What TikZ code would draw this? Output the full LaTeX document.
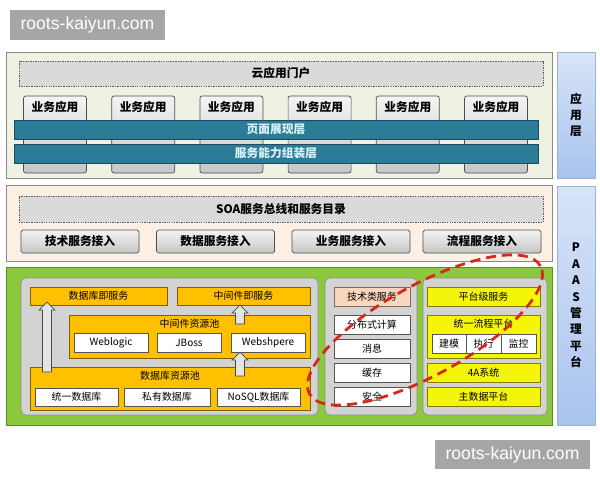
\documentclass[tikz,border=0pt]{standalone}
\usepackage{fontspec}
\setmainfont{Noto Sans CJK SC}
\newfontfamily\wmfont{Liberation Sans}
\usetikzlibrary{calc}

\definecolor{appbg}{HTML}{EFF2E2}
\definecolor{soabg}{HTML}{FCEFE3}
\definecolor{layerline}{HTML}{8A8A8A}
\definecolor{dashfill}{HTML}{DADADA}
\definecolor{dashline}{HTML}{5A5A5A}
\definecolor{btntop}{HTML}{F4F4F4}
\definecolor{btnbot}{HTML}{C6C6C6}
\definecolor{btnline}{HTML}{4D4D4D}
\definecolor{barteal}{HTML}{2B7D97}
\definecolor{tealline}{HTML}{1D4B5A}
\definecolor{tealtext}{HTML}{DDF3FA}
\definecolor{sidetop}{HTML}{D8E4F8}
\definecolor{sidebot}{HTML}{A9C3EE}
\definecolor{sideline}{HTML}{9DB3D6}
\definecolor{paasgreen}{HTML}{8CC83C}
\definecolor{greenline}{HTML}{5B8C2A}
\definecolor{poolgray}{HTML}{D3D3D3}
\definecolor{poolline}{HTML}{8C8C8C}
\definecolor{dborange}{HTML}{FFC000}
\definecolor{orangeline}{HTML}{7F6000}
\definecolor{yel}{HTML}{F5F50A}
\definecolor{yelline}{HTML}{807F00}
\definecolor{peach}{HTML}{F9D7BF}
\definecolor{peachline}{HTML}{7F6A5A}
\definecolor{boxline}{HTML}{555555}
\definecolor{arrfill}{HTML}{E4E4E4}
\definecolor{arrline}{HTML}{4A4A4A}
\definecolor{loopred}{HTML}{D42A1F}
\definecolor{wmgray}{HTML}{A6A6A6}

\newcommand\liftarrow[2]{\draw[blockarrow] ($(#1)+(-4.5, 0)$) -- ($(#2)+(-4.5, 8)$) -- ($(#2)+(-8, 8)$) -- (#2) -- ($(#2)+(8, 8)$) -- ($(#2)+(4.5, 8)$) -- ($(#1)+(4.5, 0)$) -- cycle;}

\begin{document}
\begin{tikzpicture}[x=0.3mm, y=-0.3mm,
	sz/.style 2 args={minimum width=#1*0.3mm, minimum height=#2*0.3mm, inner sep=0pt, outer sep=0pt},
	bigtext/.style={font=\bfseries\fontsize{10}{12}\selectfont},
	smalltext/.style={font=\fontsize{8.5}{10}\selectfont},
	layerbox/.style={draw=layerline, line width=0.8pt},
	dashbox/.style={bigtext, fill=dashfill, draw=dashline, dash pattern=on 1.2pt off 0.9pt, line width=0.6pt},
	appbox/.style={draw=btnline, rounded corners=2pt, top color=btntop, bottom color=btnbot, line width=0.6pt},
	bar/.style={bigtext, fill=barteal, draw=tealline, line width=0.8pt, text=tealtext},
	btn/.style={bigtext, draw=btnline, rounded corners=1.5pt, top color=btntop, bottom color=btnbot, line width=0.6pt},
	sidebox/.style={draw=sideline, top color=sidetop, bottom color=sidebot, line width=0.6pt, align=center},
	pool/.style={fill=poolgray, draw=poolline, rounded corners=4pt, line width=0.6pt},
	obox/.style={smalltext, fill=dborange, draw=orangeline, line width=0.6pt},
	wbox/.style={smalltext, fill=white, draw=boxline, line width=0.6pt},
	ybox/.style={smalltext, fill=yel, draw=yelline, line width=0.6pt},
	pbox/.style={smalltext, fill=peach, draw=peachline, line width=0.6pt},
	toplabel/.style={anchor=north, inner sep=1pt, yshift=-0.9mm},
	blockarrow/.style={fill=arrfill, draw=arrline, line width=0.6pt},
	wm/.style={fill=wmgray, text=white, font=\wmfont\fontsize{15}{17}\selectfont}
]
	\useasboundingbox (0, 0) rectangle (600, 480);

	% application layer
	\node[layerbox, fill=appbg, sz={546}{126}] (applayer) at (279, 115) {};
	\node[dashbox, sz={524}{25}] (portal) at (281, 73.5) {云应用门户};
	\foreach \i in {0,...,5}
		\node[appbox, sz={63}{77}, label={[bigtext, toplabel, yshift=-0.3mm]north:业务应用}] (app\i) at ({55 + 88.2*\i}, 134.5) {};
	\node[bar, sz={524}{19}] (showbar) at (276, 129.5) {页面展现层};
	\node[bar, sz={524}{19}] (assembar) at (276, 153.5) {服务能力组装层};
	\node[sidebox, sz={38}{126}, font=\bfseries\fontsize{10}{13.3}\selectfont] (appside) at (576, 115) {应\\用\\层};

	% SOA layer
	\node[layerbox, fill=soabg, sz={546}{76}] (soalayer) at (279, 223) {};
	\node[dashbox, sz={524}{26}] (soabus) at (281, 209) {SOA服务总线和服务目录};
	\node[btn, sz={118}{23}] (techin) at (80, 241.5) {技术服务接入};
	\node[btn, sz={118}{23}] (datain) at (215.5, 241.5) {数据服务接入};
	\node[btn, sz={118}{23}] (bizin) at (351, 241.5) {业务服务接入};
	\node[btn, sz={118}{23}] (flowin) at (482, 241.5) {流程服务接入};
	\node[sidebox, sz={38}{239}, font=\bfseries\fontsize{10}{14}\selectfont] (paasside) at (576, 305.5) {P\\A\\A\\S\\管\\理\\平\\台};

	% PAAS layer
	\node[layerbox, fill=paasgreen, draw=greenline, sz={546}{158}] (paaslayer) at (279, 346) {};
	\node[pool, sz={297}{137}] (leftpool) at (169.5, 346.5) {};
	\node[pool, sz={92}{137}] (midpool) at (371, 346.5) {};
	\node[pool, sz={124}{137}] (rightpool) at (485, 346.5) {};

	\node[obox, sz={137}{18}] (dbsvc) at (98.5, 296) {数据库即服务};
	\node[obox, sz={133}{18}] (mwsvc) at (243.5, 296) {中间件即服务};
	\node[obox, sz={241}{43}, label={[smalltext, toplabel]north:中间件资源池}] (mwpool) at (189.5, 336.5) {};
	\node[wbox, sz={74}{19}] (weblogic) at (111, 342.5) {Weblogic};
	\node[wbox, sz={64}{19}] (jboss) at (189, 342.5) {JBoss};
	\node[wbox, sz={74}{19}] (websphere) at (268, 342.5) {Webshpere};
	\node[obox, sz={280}{43}, label={[smalltext, toplabel]north:数据库资源池}] (dbpool) at (170, 388.5) {};
	\node[wbox, sz={83}{18}] (unidb) at (76.5, 397) {统一数据库};
	\node[wbox, sz={86}{18}] (privdb) at (167, 397) {私有数据库};
	\node[wbox, sz={83}{18}] (nosqldb) at (258.5, 397) {NoSQL数据库};

	\coordinate (colA) at (47, 0);
	\coordinate (colB) at (240, 0);
	\coordinate (a1s) at ($(dbpool.north -| colA)+(0, 5)$);
	\coordinate (a1e) at ($(dbsvc.south -| colA)+(0, -3)$);
	\coordinate (a2s) at ($(mwpool.north -| colB)+(0, 9)$);
	\coordinate (a2e) at (mwsvc.south -| colB);
	\coordinate (a3s) at ($(dbpool.north -| colB)+(0, 9)$);
	\coordinate (a3e) at (websphere.south -| colB);
	\liftarrow{a1s}{a1e}
	\liftarrow{a2s}{a2e}
	\liftarrow{a3s}{a3e}

	\node[pbox, sz={76}{19}] (techsvc) at (372, 296.5) {技术类服务};
	\node[wbox, sz={76}{19}] (distcalc) at (372, 324.5) {分布式计算};
	\node[wbox, sz={76}{19}] (message) at (372, 348.5) {消息};
	\node[wbox, sz={76}{19}] (cache) at (372, 372.5) {缓存};
	\node[wbox, sz={76}{19}] (security) at (372, 396.5) {安全};

	\node[ybox, sz={113}{19}] (platsvc) at (483.5, 296.5) {平台级服务};
	\node[ybox, sz={113}{43}, label={[smalltext, toplabel]north:统一流程平台}] (flowplat) at (483.5, 336.5) {};
	\node[wbox, sz={34}{19}] (modeling) at (449, 343.5) {建模};
	\node[wbox, sz={35}{19}] (execute) at (483.5, 343.5) {执行};
	\node[wbox, sz={35}{19}] (monitor) at (518.5, 343.5) {监控};
	\node[ybox, sz={113}{19}] (foura) at (483.5, 372.5) {4A系统};
	\node[ybox, sz={113}{19}] (masterdata) at (483.5, 396.5) {主数据平台};

	\draw[loopred, line width=2.4pt, dash pattern=on 3mm off 1.8mm] (425, 330) circle [x radius=39.6mm, y radius=13.5mm, rotate=29];

	% watermarks
	\node[wm, sz={155}{30}] (wmtop) at (87.5, 25) {roots-kaiyun.com};
	\node[wm, sz={155}{29}] (wmbottom) at (512.5, 454.5) {roots-kaiyun.com};
\end{tikzpicture}
\end{document}
